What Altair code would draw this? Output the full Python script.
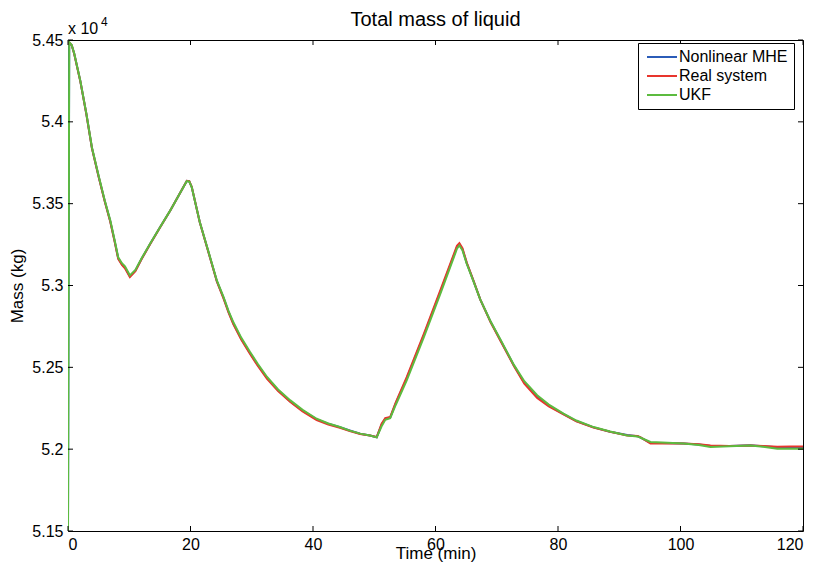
import altair as alt
import pandas as pd

# ---- data (mass in kg, time in minutes) ----
time = [0, 0.2, 0.6, 1, 2, 3, 3.9, 5, 6, 6.9,
        7.6, 8.2, 8.8, 9.3, 10.1, 11, 12, 13.4, 15, 16.7,
        18, 19.4, 19.8, 20.2, 21.5, 23.2, 24.3, 25.4, 26.2, 27,
        28.3, 29.7, 31, 32.5, 34.3, 36.3, 38.3, 40.6, 42.5, 44.4,
        46, 47.7, 49.3, 50.4, 51.2, 51.8, 52.6, 53.5, 55.3, 58.1,
        60.8, 63, 63.5, 63.9, 64.4, 65.1, 66.2, 67.3, 69, 70.6,
        72.8, 74.5, 76.6, 78.5, 80.9, 83, 85.8, 88.5, 91.3, 93.0,
        93.5, 95.1, 97, 100.5, 103, 104.9, 108, 111.4, 113.5, 115.8,
        118, 120]

ukf = [51500, 54487, 54470, 54420, 54253, 54050, 53845, 53670, 53520, 53398,
       53280, 53172, 53136, 53117, 53062, 53095, 53165, 53255, 53355, 53459,
       53545, 53638, 53635, 53601, 53390, 53173, 53031, 52929, 52845, 52775,
       52680, 52595, 52520, 52441, 52365, 52298, 52240, 52186, 52157, 52135,
       52113, 52095, 52084, 52072, 52140, 52179, 52189, 52270, 52420, 52685,
       52950, 53173, 53225, 53245, 53215, 53133, 53025, 52915, 52780, 52670,
       52515, 52415, 52330, 52272, 52217, 52175, 52135, 52108, 52084, 52078,
       52070, 52044, 52040, 52034, 52025, 52013, 52018, 52023, 52015, 52003,
       52003, 52003]

real = [54470, 54485, 54468, 54418, 54250, 54046, 53840, 53664, 53513, 53390,
        53270, 53162, 53126, 53105, 53052, 53088, 53160, 53252, 53353, 53458,
        53545, 53640, 53637, 53603, 53388, 53168, 53025, 52920, 52835, 52763,
        52668, 52583, 52508, 52430, 52355, 52288, 52231, 52178, 52150, 52130,
        52111, 52093, 52083, 52074, 52155, 52190, 52196, 52285, 52440, 52705,
        52972, 53192, 53242, 53259, 53228, 53140, 53030, 52915, 52775, 52663,
        52508, 52400, 52312, 52262, 52212, 52170, 52132, 52106, 52084, 52080,
        52072, 52034, 52036, 52034, 52030, 52023, 52020, 52022, 52020, 52015,
        52017, 52017]

mhe = [51500, 54482, 54469, 54419, 54251, 54048, 53842, 53666, 53516, 53393,
       53274, 53166, 53130, 53110, 53056, 53090, 53162, 53253, 53354, 53458,
       53545, 53639, 53636, 53602, 53389, 53170, 53027, 52924, 52840, 52768,
       52673, 52588, 52513, 52435, 52360, 52292, 52235, 52182, 52155, 52134,
       52114, 52094, 52083, 52073, 52150, 52186, 52193, 52280, 52432, 52697,
       52962, 53184, 53235, 53252, 53222, 53137, 53028, 52915, 52778, 52666,
       52511, 52406, 52320, 52266, 52214, 52172, 52133, 52107, 52086, 52079,
       52071, 52038, 52038, 52034, 52028, 52020, 52019, 52024, 52018, 52012,
       52014, 52014]

series = ["Nonlinear MHE", "Real system", "UKF"]
colors = ["#2b5cb8", "#e8352d", "#5cbb3f"]
x_ticks = [0, 20, 40, 60, 80, 100, 120]
y_ticks = [51500, 52000, 52500, 53000, 53500, 54000, 54500]
exp_base = ["x 10"]
exp_power = ["4"]
chart_title = "Total mass of liquid"
x_title = "Time (min)"
y_title = "Mass (kg)"

rows = []
for name, vals in zip(series, [mhe, real, ukf]):
    for t, v in zip(time, vals):
        rows.append({"Time": t, "Mass": v, "Series": name})
df = pd.DataFrame(rows)

FONT = "Liberation Sans"
W, H = 735, 491
xs = alt.Scale(domain=[0, 120], nice=False, zero=False)
ys = alt.Scale(domain=[51500, 54500], nice=False, zero=False)

lines = alt.Chart(df).mark_line(strokeWidth=2, clip=True).encode(
    x=alt.X("Time:Q", scale=xs,
            axis=alt.Axis(values=x_ticks, title=x_title, labelPadding=5,
                          titleY=22, titleBaseline="middle", titleAlign="center")),
    y=alt.Y("Mass:Q", scale=ys,
            axis=alt.Axis(values=y_ticks, title=y_title, labelPadding=5,
                          labelExpr="format(datum.value / 10000, '~g')",
                          titleX=-51, titleY=H / 2, titleAngle=270,
                          titleBaseline="middle", titleAlign="center")),
    color=alt.Color("Series:N", scale=alt.Scale(domain=series, range=colors),
                    legend=alt.Legend(title=None, orient="none", legendX=570, legendY=3,
                                      direction="vertical", symbolType="M-1,0L5,0",
                                      symbolSize=100, symbolStrokeWidth=2,
                                      labelFontSize=16, labelFont=FONT, labelColor="black",
                                      strokeColor="black", fillColor="white",
                                      padding=6, rowPadding=3, labelOffset=19)),
)

xt = pd.DataFrame({"v": x_ticks})
yt = pd.DataFrame({"v": y_ticks})
tick_style = dict(color="black", strokeWidth=1)
xb = alt.Chart(xt).mark_rule(**tick_style).encode(
    x=alt.X("v:Q", scale=xs), y=alt.value(H), y2=alt.value(H - 5))
xtop = alt.Chart(xt).mark_rule(**tick_style).encode(
    x=alt.X("v:Q", scale=xs), y=alt.value(0), y2=alt.value(5))
yl = alt.Chart(yt).mark_rule(**tick_style).encode(
    y=alt.Y("v:Q", scale=ys), x=alt.value(0), x2=alt.value(5))
yr = alt.Chart(yt).mark_rule(**tick_style).encode(
    y=alt.Y("v:Q", scale=ys), x=alt.value(W), x2=alt.value(W - 5))

expb = alt.Chart(pd.DataFrame({"t": exp_base})).mark_text(
    align="left", baseline="alphabetic", fontSize=16, font=FONT, color="black").encode(
    text="t:N", x=alt.value(0), y=alt.value(-6))
expp = alt.Chart(pd.DataFrame({"t": exp_power})).mark_text(
    align="left", baseline="alphabetic", fontSize=12, font=FONT, color="black").encode(
    text="t:N", x=alt.value(33), y=alt.value(-14))

chart = alt.layer(lines, xb, xtop, yl, yr, expb, expp).properties(
    width=W, height=H,
    title=alt.Title(chart_title, fontSize=20, font=FONT, fontWeight="normal",
                    color="black", anchor="middle", offset=4, dy=18),
    autosize=alt.AutoSizeParams(type="none"),
    padding={"left": 60, "top": 32, "right": 10, "bottom": 37},
    background="white",
).configure_view(stroke="black", strokeWidth=1).configure_axis(
    labelFont=FONT, labelFontSize=16, labelColor="black",
    titleFont=FONT, titleFontSize=17, titleFontWeight="normal", titleColor="black",
    domain=False, ticks=False, tickSize=0, grid=False,
)

chart.save("out.html", embed_options={"renderer": "svg", "actions": False})
